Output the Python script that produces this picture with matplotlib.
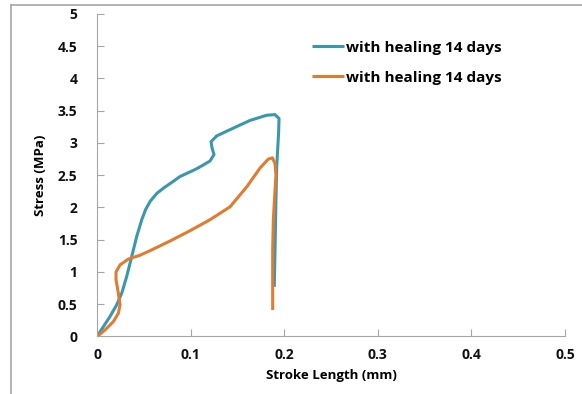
import matplotlib
matplotlib.use("Agg")
import matplotlib.pyplot as plt
from matplotlib.lines import Line2D

plt.rcParams['font.family'] = ['Open Sans', 'DejaVu Sans']
plt.rcParams['font.weight'] = 'bold'

x_teal = [0.0, 0.0067, 0.0139, 0.021, 0.0264, 0.0317, 0.0371, 0.0424, 0.0478, 0.0520,
          0.0570, 0.0640, 0.0720, 0.078, 0.0887, 0.1065, 0.1207, 0.125, 0.1228, 0.1218,
          0.1279, 0.1456, 0.1635, 0.1813, 0.1902, 0.1945, 0.1940, 0.192, 0.1912, 0.1902,
          0.1894]
y_teal = [0.0, 0.15, 0.31, 0.49, 0.67, 0.93, 1.24, 1.55, 1.81, 1.97,
          2.10, 2.22, 2.31, 2.37, 2.48, 2.60, 2.72, 2.82, 2.93, 3.02,
          3.11, 3.23, 3.35, 3.43, 3.44, 3.38, 3.15, 2.63, 2.12, 1.34,
          0.77]

x_orange = [0.0, 0.0085, 0.0174, 0.0228, 0.0246, 0.0228, 0.0203, 0.0203, 0.0246, 0.0335,
            0.046, 0.0566, 0.078, 0.0994, 0.1207, 0.1421, 0.16, 0.1741, 0.183, 0.1875,
            0.1902, 0.1912, 0.1902, 0.1884, 0.1877, 0.1877]
y_orange = [0.0, 0.10, 0.23, 0.36, 0.49, 0.67, 0.88, 1.00, 1.11, 1.20,
            1.26, 1.33, 1.48, 1.64, 1.81, 2.01, 2.32, 2.61, 2.75, 2.77,
            2.68, 2.50, 2.27, 1.81, 1.34, 0.41]

labels = ['with healing 14 days', 'with healing 14 days']
xticks = [0, 0.1, 0.2, 0.3, 0.4, 0.5]
yticks = [0, 0.5, 1, 1.5, 2, 2.5, 3, 3.5, 4, 4.5, 5]

fig = plt.figure(figsize=(5.82, 3.94), dpi=100)
ax = fig.add_axes([0.1667, 0.146, 0.804, 0.8185])

ax.plot(x_teal, y_teal, color='#3a97ae', lw=2.2, label=labels[0],
        solid_joinstyle='round', solid_capstyle='butt')
ax.plot(x_orange, y_orange, color='#e07b30', lw=2.2, label=labels[1],
        solid_joinstyle='round', solid_capstyle='butt')

ax.set_xlim(0, 0.5)
ax.set_ylim(0, 5)
ax.set_xticks(xticks)
ax.set_xticklabels(['0', '0.1', '0.2', '0.3', '0.4', '0.5'])
ax.set_yticks(yticks)
ax.set_yticklabels(['0', '0.5', '1', '1.5', '2', '2.5', '3', '3.5', '4', '4.5', '5'])

for s in ['top', 'right']:
    ax.spines[s].set_visible(False)
for s in ['left', 'bottom']:
    ax.spines[s].set_color('#a6a6a6')
ax.tick_params(direction='in', length=5, color='#a6a6a6', labelsize=10,
               labelcolor='#111111')
ax.tick_params(axis='y', pad=14)
ax.tick_params(axis='x', pad=8)

ax.set_xlabel('Stroke Length (mm)', fontsize=9.5, fontweight='bold', labelpad=5)
ax.set_ylabel('Stress (MPa)', fontsize=9.5, fontweight='bold', labelpad=8)

ax.legend(loc='upper left', bbox_to_anchor=(0.43, 0.96), frameon=False,
          fontsize=11, handlelength=2.1, handletextpad=0.15, labelspacing=1.05)

# outer frame (left and top only)
fig.add_artist(Line2D([11 / 582, 11 / 582], [0, 1 - 5 / 394], color='#a6a6a6', lw=1.2,
                      transform=fig.transFigure))
fig.add_artist(Line2D([11 / 582, 1], [1 - 5 / 394, 1 - 5 / 394], color='#a6a6a6', lw=1.2,
                      transform=fig.transFigure))

fig.savefig('out.png', dpi=100)
